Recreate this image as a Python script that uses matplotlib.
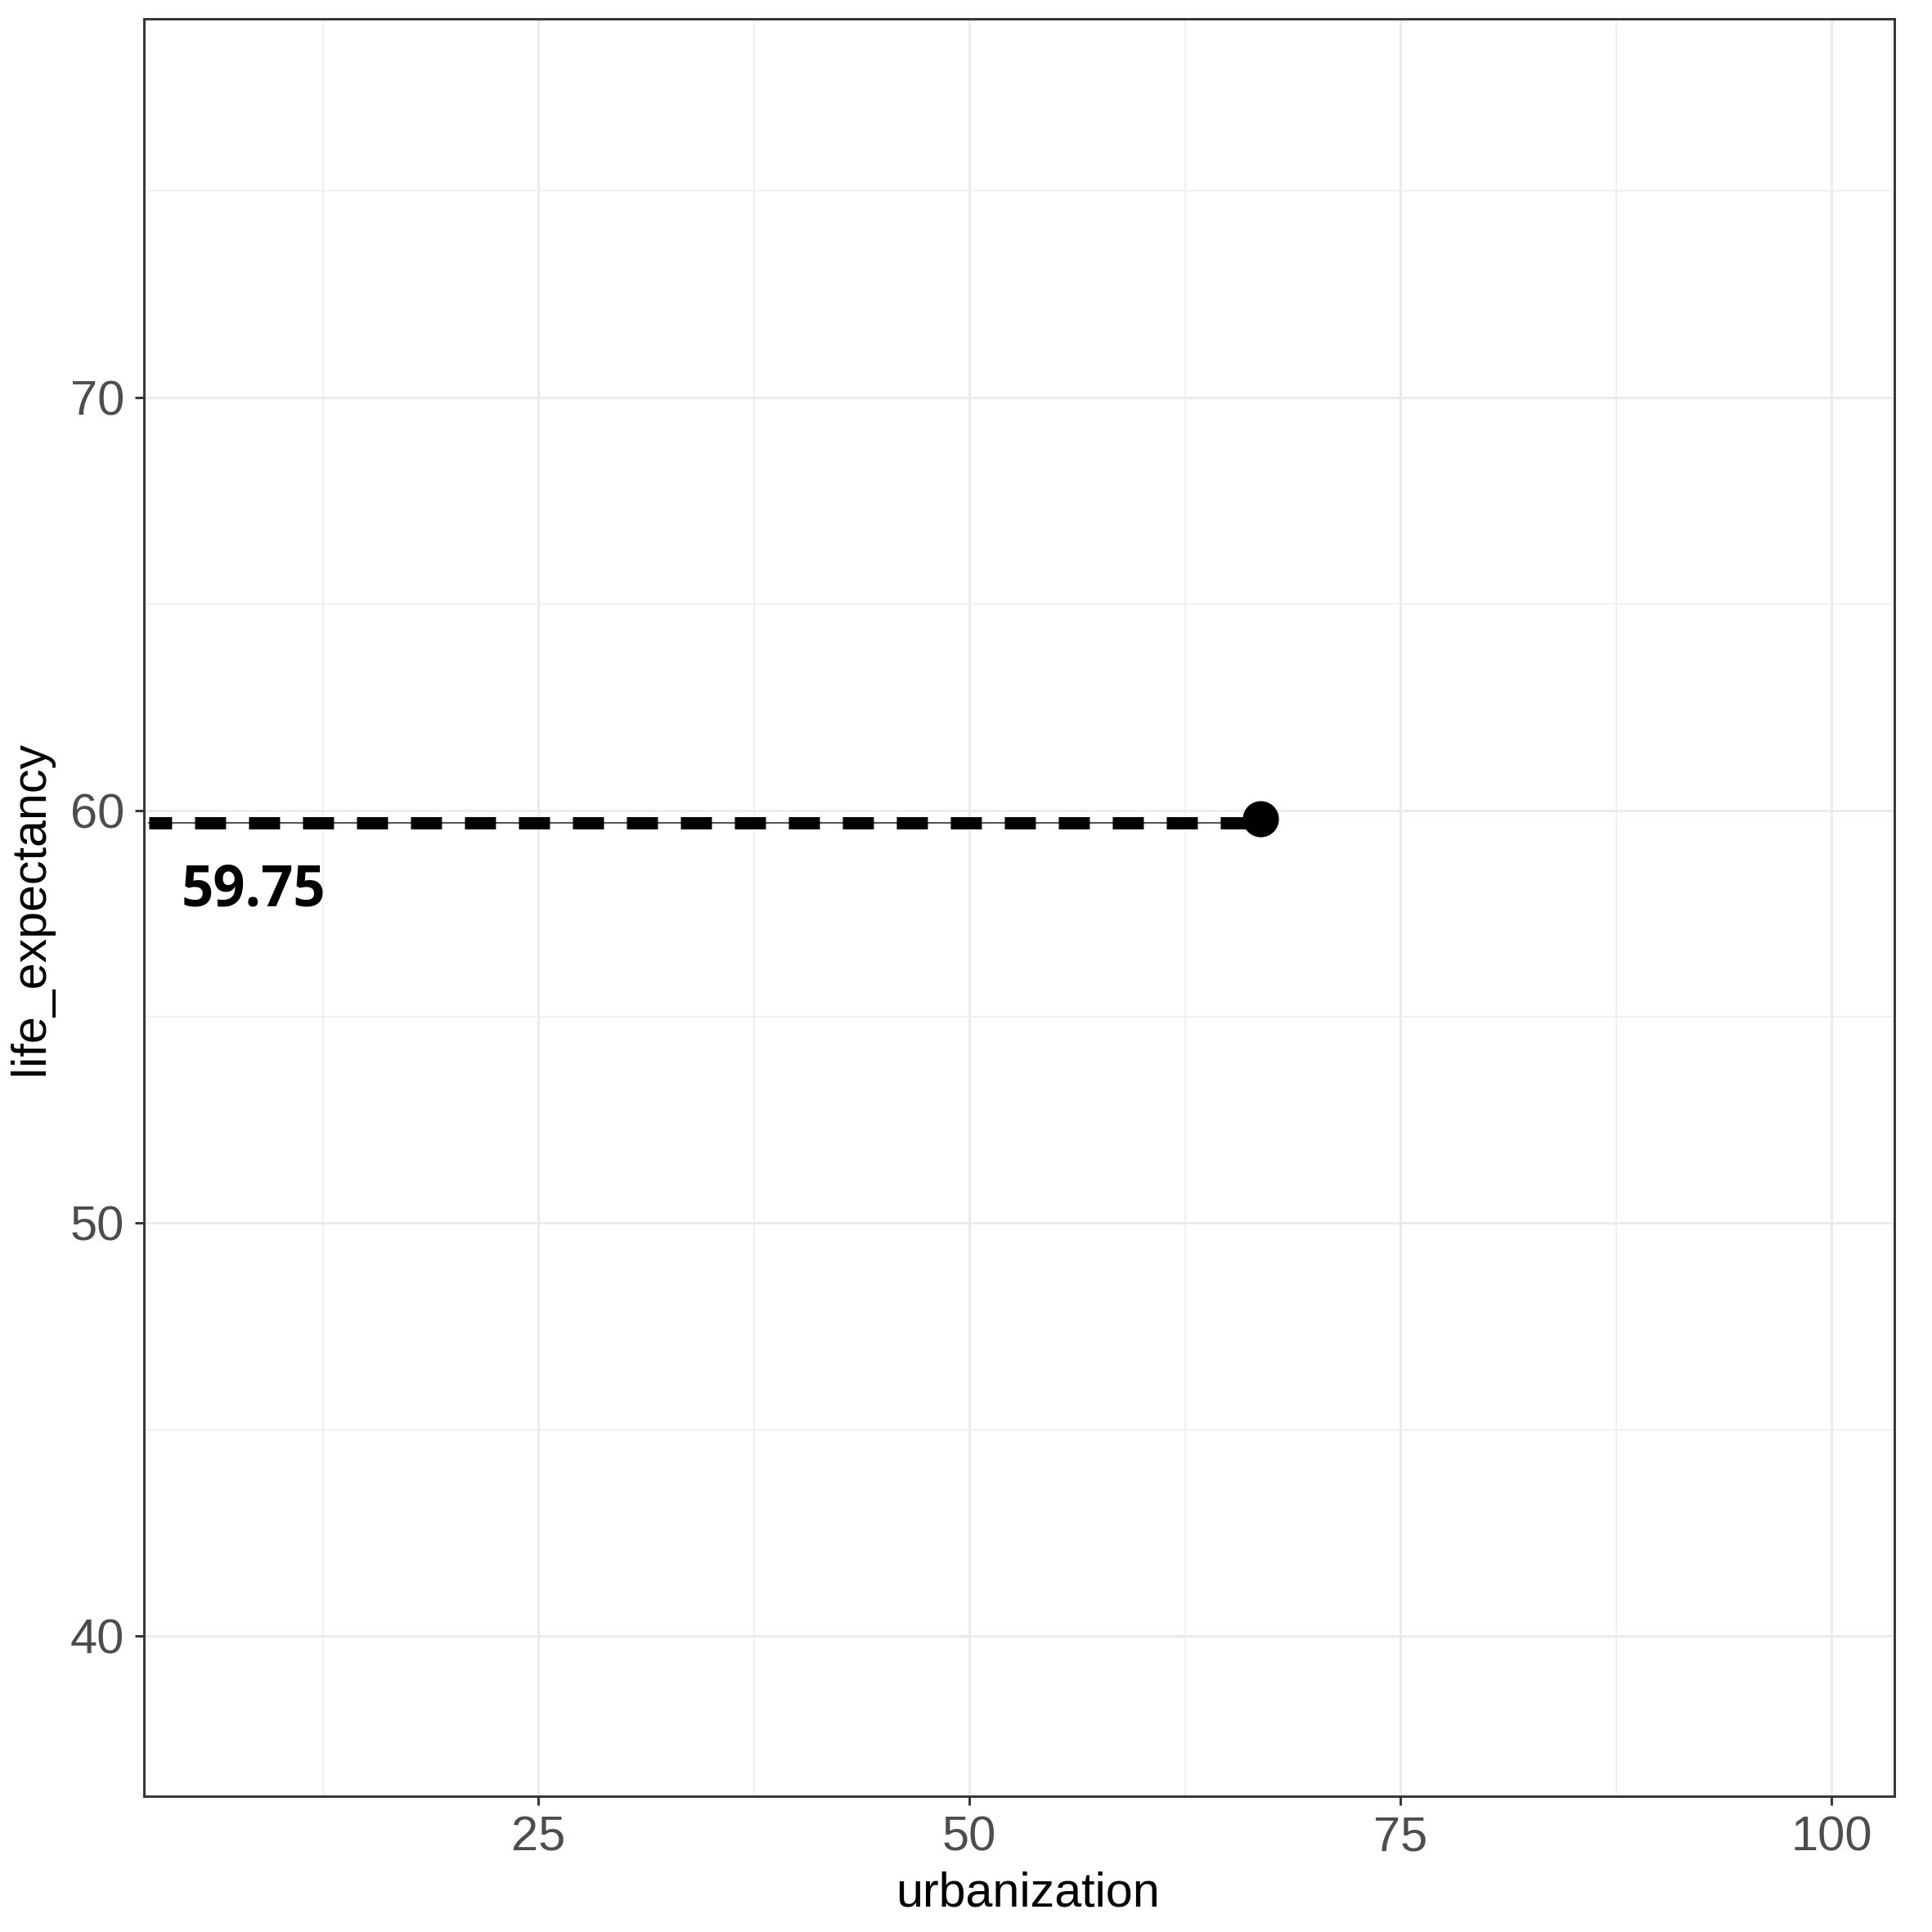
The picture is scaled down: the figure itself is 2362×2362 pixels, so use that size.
import matplotlib
matplotlib.use("Agg")
import matplotlib.pyplot as plt
from matplotlib.ticker import FixedLocator

# ---- data ----
x_limits = [2.13, 103.65]
y_limits = [36.12, 79.17]
x_ticks = [25, 50, 75, 100]
y_ticks = [40, 50, 60, 70]
x_minor = [12.5, 37.5, 62.5, 87.5]
y_minor = [45, 55, 65, 75]
point_x = [66.9]
point_y = [59.8]
hline_y = 59.7
hline_start = 2.4
label_text = "59.75"
label_x = 4.3
label_y = 57.68

plt.rcParams['font.family'] = ['Liberation Sans', 'DejaVu Sans']

fig = plt.figure(figsize=(2362/300, 2362/300), dpi=300)
ax = fig.add_axes([176/2362, 1-2196/2362, (2316-176)/2362, (2196-23)/2362])

ax.set_xlim(*x_limits)
ax.set_ylim(*y_limits)
ax.xaxis.set_major_locator(FixedLocator(x_ticks))
ax.yaxis.set_major_locator(FixedLocator(y_ticks))
ax.xaxis.set_minor_locator(FixedLocator(x_minor))
ax.yaxis.set_minor_locator(FixedLocator(y_minor))

ax.grid(which='major', color='#EBEBEB', linewidth=0.7, zorder=0)
ax.grid(which='minor', color='#F0F0F0', linewidth=0.45, zorder=0)
ax.set_axisbelow(True)

for s in ax.spines.values():
    s.set_color('#333333')
    s.set_linewidth(0.7)

ax.tick_params(which='major', length=2.7, width=0.7, color='#333333',
               labelsize=14.3, labelcolor='#4D4D4D', pad=3)
ax.tick_params(which='minor', length=0)

# thin line under the dashes
ax.plot([hline_start, point_x[0]], [hline_y, hline_y], color='#555555', lw=0.5, zorder=2)
# dashed thick line
ax.plot([hline_start, point_x[0]], [hline_y, hline_y], color='black', lw=3.6,
        linestyle=(0.67, (2.53, 1.87)), solid_capstyle='butt', dash_capstyle='butt', zorder=3)
ax.plot(point_x, point_y, 'o', color='black', markersize=9.6, zorder=4)

ax.text(label_x, label_y, label_text, fontsize=16.5, fontweight='bold',
        family=['Open Sans', 'DejaVu Sans'], color='black', ha='left', va='baseline')

ax.set_xlabel('urbanization', fontsize=14.2, color='black')
ax.xaxis.set_label_coords(0.505, -0.042)
ax.set_ylabel('life_expectancy', fontsize=14.2, color='black', labelpad=5)

fig.savefig('out.png', dpi=300, facecolor='white')
